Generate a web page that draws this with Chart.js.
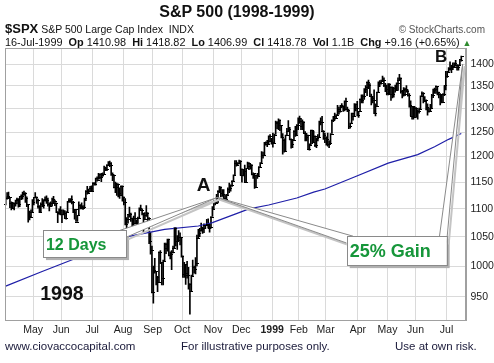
<!DOCTYPE html>
<html>
<head>
<meta charset="utf-8">
<script src="https://cdn.jsdelivr.net/npm/chart.js@4.4.0/dist/chart.umd.min.js"></script>
<style>
body { margin: 0; background: #fff; font-family: "Liberation Sans", Arial, sans-serif; }
#wrap { position: relative; width: 494px; height: 363px; }
#wrap canvas { position: absolute; left: 0; top: 0; }
.t { position: absolute; white-space: nowrap; color: #111; }
</style>
</head>
<body>
<div id="wrap">
  <canvas id="spx" width="494" height="363"></canvas>
  <div class="t" style="left:0;width:474px;top:3px;text-align:center;font-weight:bold;font-size:16px;line-height:18px;">S&amp;P 500 (1998-1999)</div>
  <div class="t" style="left:5px;top:21px;font-size:10.5px;line-height:15px;"><b style="font-size:13px">$SPX</b> S&amp;P 500 Large Cap Index&nbsp; INDX</div>
  <div class="t" style="right:9px;top:24px;font-size:10px;line-height:12px;color:#555;">&copy; StockCharts.com</div>
  <div class="t" style="left:5px;top:36px;font-size:10.9px;line-height:12px;">16-Jul-1999&nbsp; <b>Op</b> 1410.98&nbsp; <b>Hi</b> 1418.82&nbsp; <b>Lo</b> 1406.99&nbsp; <b>Cl</b> 1418.78&nbsp; <b>Vol</b> 1.1B&nbsp; <b>Chg</b> +9.16 (+0.65%) <span style="color:#2e8b2e;font-size:9px">&#9650;</span></div>
  <div class="t" style="left:5px;top:340px;font-size:11.5px;line-height:13px;color:#1a1a3a;">www.ciovaccocapital.com</div>
  <div class="t" style="left:181px;top:340px;font-size:11.5px;line-height:13px;color:#1a1a3a;">For illustrative purposes only.</div>
  <div class="t" style="left:395px;top:340px;font-size:11.5px;line-height:13px;color:#1a1a3a;">Use at own risk.</div>
</div>
<script>
// daily bars, 2-Apr-1998 .. 16-Jul-1999 (index = trading day)
var opens = [
  1109,1120,1123,1121,1111,1102,1111,1110,1116,1119,1108,1123,1124,1127,1130,1120,1108,1087,1085,1095,
  1112,1121,1122,1116,1105,1095,1108,1107,1116,1119,1117,1109,1106,1110,1119,1115,1110,1094,1092,1098,
  1091,1091,1093,1083,1095,1114,1116,1118,1112,1095,1099,1077,1088,1107,1106,1101,1103,1120,1133,1129,1133,1139,
  1134,1149,1146,1157,1155,1166,1159,1164,1165,1178,1175,1184,1187,1184,1165,1164,1140,1141,1147,1130,1125,1143,
  1121,1112,1072,1081,1090,1090,1083,1069,1084,1075,1063,1084,1101,1098,1092,1081,1088,1093,1084,1043,1027,
  957,994,991,982,974,1024,1006,980,1009,1030,1038,1046,1019,1020,1024,1030,1066,1043,1045,1049,1049,
  1017,986,1003,989,985,971,959,984,998,995,1005,1047,1056,1062,1064,1065,1071,1070,1073,1065,1068,1086,
  1099,1112,1111,1119,1134,1141,1130,1128,1120,1118,1126,1136,1139,1145,1153,1164,1188,1183,1187,1192,
  1164,1175,1171,1150,1177,1188,1181,1184,1165,1167,1141,1163,1162,1180,1188,1203,1204,1229,1226,1226,1242,1232,
  1229,1228,1245,1272,1270,1275,1264,1240,1234,1212,1243,1252,1257,1235,1225,1234,1252,1243,1265,
  1280,1273,1262,1272,1249,1239,1244,1216,1224,1254,1230,1242,1224,1237,1239,1272,1271,1253,1245,
  1238,1236,1226,1228,1247,1276,1283,1280,1287,1298,1295,1307,1306,1298,1317,1299,1297,1262,1269,1290,1283,1310,1301,
  1286,1294,1321,1318,1327,1344,1348,1359,1351,1328,1323,1319,1290,1306,1336,1359,1357,1360,1363,1351,1343,
  1335,1355,1332,1347,1332,1345,1340,1356,1364,1368,1338,1340,1333,1344,1339,1330,1307,1284,1305,1281,
  1302,1294,1295,1300,1328,1335,1317,1319,1303,1294,1294,1301,1330,1340,1343,1349,1336,1333,1315,1315,1331,1351,
  1373,1381,1391,1388,1396,1394,1403,1399,1394,1398,1411
];
var highs = [
  1122,1130,1131,1121,1113,1112,1111,1116,1120,1119,1123,1126,1131,1133,1130,1122,1108,1096,1098,1117,
  1121,1130,1122,1118,1106,1111,1119,1117,1122,1124,1120,1111,1113,1120,1123,1116,1111,1095,1100,1104,
  1098,1098,1097,1095,1114,1119,1119,1124,1114,1099,1099,1088,1113,1108,1111,1106,1120,1134,1142,1137,1142,1143,
  1149,1149,1158,1160,1167,1166,1167,1168,1181,1179,1184,1190,1191,1188,1168,1164,1150,1148,1147,1139,1143,1143,
  1122,1119,1084,1090,1103,1092,1083,1087,1093,1080,1085,1102,1107,1100,1092,1093,1106,1093,1084,1058,1034,
  1000,1013,991,983,1024,1026,1006,1010,1039,1039,1046,1046,1024,1026,1034,1066,1066,1052,1061,1057,1049,
  1017,1006,1003,1008,998,971,985,1010,1000,1014,1053,1063,1065,1074,1067,1073,1071,1081,1082,1072,1086,1104,
  1115,1115,1127,1134,1142,1141,1136,1136,1126,1127,1139,1148,1145,1153,1164,1192,1192,1188,1193,1192,
  1176,1175,1183,1177,1189,1188,1185,1184,1168,1167,1163,1167,1180,1188,1210,1209,1229,1230,1233,1242,1245,1237,
  1248,1246,1273,1272,1278,1276,1264,1247,1236,1244,1258,1274,1260,1236,1235,1253,1262,1266,1280,
  1284,1279,1276,1272,1251,1247,1244,1226,1254,1254,1252,1242,1238,1245,1273,1280,1283,1253,1248,
  1240,1248,1232,1247,1276,1283,1290,1287,1307,1303,1307,1311,1306,1317,1323,1303,1297,1269,1290,1290,1311,1310,1316,
  1294,1321,1330,1330,1344,1351,1359,1363,1355,1332,1327,1341,1310,1336,1359,1362,1363,1372,1368,1356,1352,
  1355,1355,1348,1348,1346,1352,1357,1368,1376,1368,1340,1346,1345,1351,1341,1333,1317,1305,1305,1304,
  1302,1298,1301,1328,1337,1335,1326,1319,1310,1301,1309,1331,1343,1345,1350,1349,1336,1333,1329,1333,1351,1383,
  1383,1392,1405,1397,1403,1403,1409,1399,1398,1410,1419
];
var lows = [
  1107,1118,1119,1102,1098,1101,1098,1105,1109,1103,1104,1117,1118,1125,1112,1104,1076,1080,1085,1095,
  1107,1120,1110,1101,1093,1095,1104,1101,1114,1110,1105,1096,1105,1105,1111,1106,1093,1075,1090,1089,
  1075,1089,1082,1081,1095,1112,1112,1109,1093,1081,1077,1077,1088,1100,1100,1099,1103,1115,1127,1129,1133,1132,
  1134,1144,1144,1152,1155,1156,1151,1161,1165,1172,1172,1182,1180,1163,1153,1139,1130,1125,1122,1119,1125,1114,
  1107,1071,1057,1074,1085,1077,1055,1069,1073,1058,1060,1084,1097,1089,1059,1081,1086,1075,1038,1020,956,
  940,988,969,958,974,1004,969,969,1009,1021,1025,1017,1012,994,1022,1030,1034,1028,1043,1036,1015,
  981,981,970,980,962,923,959,984,988,987,1000,1047,1050,1060,1056,1057,1064,1070,1065,1058,1065,1086,
  1099,1107,1111,1111,1130,1122,1123,1118,1115,1117,1125,1130,1133,1142,1153,1164,1181,1182,1187,1163,
  1150,1162,1150,1150,1176,1174,1175,1164,1157,1138,1141,1157,1162,1178,1188,1197,1204,1223,1220,1226,1231,1225,
  1219,1228,1245,1257,1255,1253,1238,1205,1209,1212,1243,1252,1234,1217,1218,1234,1241,1243,1255,
  1268,1255,1255,1248,1232,1232,1215,1213,1224,1226,1230,1220,1218,1232,1239,1265,1253,1235,1228,
  1223,1221,1218,1228,1247,1272,1275,1279,1287,1288,1292,1302,1294,1295,1297,1293,1257,1258,1269,1275,1283,1295,1284,
  1281,1294,1312,1312,1320,1335,1328,1344,1328,1308,1312,1289,1284,1306,1336,1348,1354,1360,1348,1337,1330,
  1330,1332,1318,1323,1325,1336,1340,1340,1364,1334,1323,1327,1328,1336,1327,1303,1284,1277,1277,1281,
  1281,1277,1290,1300,1326,1312,1316,1297,1286,1292,1294,1301,1324,1333,1333,1330,1323,1308,1312,1315,1328,1341,
  1369,1381,1386,1380,1387,1394,1395,1386,1386,1398,1407
];
var closes = [
  1120,1123,1121,1111,1102,1111,1110,1116,1119,1108,1123,1124,1127,1130,1120,1108,1087,1085,1095,1112,
  1121,1122,1116,1105,1095,1108,1107,1116,1119,1117,1109,1106,1110,1119,1115,1110,1094,1092,1098,1091,
  1091,1093,1083,1095,1114,1116,1118,1112,1095,1099,1077,1088,1107,1106,1101,1103,1120,1133,1129,1133,1139,1134,
  1149,1146,1157,1155,1166,1159,1164,1165,1178,1175,1184,1187,1184,1165,1164,1140,1141,1147,1130,1125,1143,1121,
  1112,1072,1081,1090,1090,1083,1069,1084,1075,1063,1084,1101,1098,1092,1081,1088,1093,1084,1043,1027,957,
  994,991,982,974,1024,1006,980,1009,1030,1038,1046,1019,1020,1024,1030,1066,1043,1045,1049,1049,1017,
  986,1003,989,985,971,959,984,998,995,1005,1047,1056,1062,1064,1065,1071,1070,1073,1065,1068,1086,1099,
  1112,1111,1119,1134,1141,1130,1128,1120,1118,1126,1136,1139,1145,1153,1164,1188,1183,1187,1192,1164,
  1175,1171,1150,1177,1188,1181,1184,1165,1167,1141,1163,1162,1180,1188,1203,1204,1229,1226,1226,1242,1232,1229,
  1228,1245,1272,1270,1275,1264,1240,1234,1212,1243,1252,1257,1235,1225,1234,1252,1243,1265,1280,
  1273,1262,1272,1249,1239,1244,1216,1224,1254,1230,1242,1224,1237,1239,1272,1271,1253,1245,1238,
  1236,1226,1228,1247,1276,1283,1280,1287,1298,1295,1307,1306,1298,1317,1299,1297,1262,1269,1290,1283,1310,1301,1286,
  1294,1321,1318,1327,1344,1348,1359,1351,1328,1323,1319,1290,1306,1336,1359,1357,1360,1363,1351,1343,1335,
  1355,1332,1347,1332,1345,1340,1356,1364,1368,1338,1340,1333,1344,1339,1330,1307,1284,1305,1281,1302,
  1294,1295,1300,1328,1335,1317,1319,1303,1294,1294,1301,1330,1340,1343,1349,1336,1333,1315,1315,1331,1351,1373,
  1381,1391,1388,1396,1394,1403,1399,1394,1398,1410,1419
];

// 200-day moving average at a few days
var maDays = [0, 25, 50, 84, 113, 137, 147, 166, 173, 187, 207, 219, 227, 248, 272, 293, 305, 315, 324];
var maVals = [967, 990, 1013, 1049, 1063, 1069, 1075, 1093, 1100, 1107, 1120, 1131, 1137, 1160, 1187, 1204, 1220, 1235, 1247];

var monthStarts = [20, 40, 62, 84, 105, 126, 148, 168, 190, 209, 228, 251, 272, 292, 314];
var monthLabels = ['May', 'Jun', 'Jul', 'Aug', 'Sep', 'Oct', 'Nov', 'Dec', '1999', 'Feb', 'Mar', 'Apr', 'May', 'Jun', 'Jul'];
var yTicks = [950, 1000, 1050, 1100, 1150, 1200, 1250, 1300, 1350, 1400];

// callouts, in (day, price) units
var pointA = [150.5, 1121];
var pointB = [325, 1400];
var callouts = [
    { text: '12 Days', size: 16, box: [26.5, 1061, 85.6, 1015],
      wedges: [{ base: [[81, 1061], [85.6, 1049]], tip: pointA }] },
    { text: '25% Gain', size: 18, box: [242.5, 1051, 313.6, 1001.5],
      wedges: [{ base: [[247, 1051], [242.5, 1039]], tip: pointA },
               { base: [[308.5, 1051], [313.6, 1040]], tip: pointB }] }
];
var labels = [
    { text: 'A', size: 19, at: [140.7, 1144] },
    { text: 'B', size: 17, at: [309.6, 1416] },
    { text: '1998', size: 19.5, at: [40, 954] }
];

var FONT = '"Liberation Sans", Arial, sans-serif';

var annot = {
    id: 'annot',
    afterDatasetsDraw: function(chart) {
        var ctx = chart.ctx, x = chart.scales.x, y = chart.scales.y;
        var P = function(p) { return [x.getPixelForValue(p[0]), y.getPixelForValue(p[1])]; };

        // open / close ticks
        ctx.save();
        ctx.fillStyle = '#000';
        for (var i = 0; i < closes.length; i++) {
            var cx = Math.round(x.getPixelForValue(i));
            ctx.fillRect(cx - 2, Math.round(y.getPixelForValue(opens[i])), 2, 1);
            ctx.fillRect(cx + 1, Math.round(y.getPixelForValue(closes[i])), 2, 1);
        }
        ctx.restore();

        ctx.save();
        callouts.forEach(function(c) {
            var tl = P([c.box[0], c.box[1]]), br = P([c.box[2], c.box[3]]);
            var w = br[0] - tl[0], h = br[1] - tl[1];
            // shadows
            ctx.fillStyle = '#b0b0b0';
            ctx.fillRect(tl[0] + 3, tl[1] + 3, w, h);
            c.wedges.forEach(function(wd) {
                var a = P(wd.base[0]), b = P(wd.base[1]), t = P(wd.tip);
                ctx.strokeStyle = '#c4c4c4';
                ctx.lineWidth = 2;
                ctx.beginPath();
                ctx.moveTo(a[0] + 2, a[1] + 2); ctx.lineTo(t[0] + 2, t[1] + 2); ctx.lineTo(b[0] + 2, b[1] + 2);
                ctx.stroke();
            });
            c.wedges.forEach(function(wd) {
                var a = P(wd.base[0]), b = P(wd.base[1]), t = P(wd.tip);
                ctx.fillStyle = '#fff';
                ctx.beginPath();
                ctx.moveTo(a[0], a[1]); ctx.lineTo(t[0], t[1]); ctx.lineTo(b[0], b[1]); ctx.closePath();
                ctx.fill();
                ctx.strokeStyle = '#8a8a8a';
                ctx.lineWidth = 1;
                ctx.beginPath();
                ctx.moveTo(a[0], a[1]); ctx.lineTo(t[0], t[1]); ctx.lineTo(b[0], b[1]);
                ctx.stroke();
            });
            ctx.fillStyle = '#fff';
            ctx.fillRect(tl[0], tl[1], w, h);
            ctx.strokeStyle = '#8a8a8a';
            ctx.lineWidth = 1;
            ctx.strokeRect(Math.round(tl[0]) + 0.5, Math.round(tl[1]) + 0.5, Math.round(w), Math.round(h));
            ctx.fillStyle = '#16963a';
            ctx.font = 'bold ' + c.size + 'px ' + FONT;
            ctx.textAlign = 'left';
            ctx.textBaseline = 'alphabetic';
            ctx.fillText(c.text, tl[0] + 3, tl[1] + h / 2 + c.size * 0.37);
        });

        labels.forEach(function(l) {
            var p = P(l.at);
            ctx.fillStyle = '#111';
            ctx.font = 'bold ' + l.size + 'px ' + FONT;
            ctx.textAlign = 'center';
            ctx.textBaseline = 'middle';
            ctx.fillText(l.text, p[0], p[1]);
        });
        ctx.restore();
    },
    afterDraw: function(chart) {
        var a = chart.chartArea, ctx = chart.ctx;
        ctx.save();
        ctx.strokeStyle = '#a0a0a0';
        ctx.lineWidth = 1;
        ctx.strokeRect(Math.round(a.left) + 0.5, Math.round(a.top) + 0.5, Math.round(a.right - a.left), Math.round(a.bottom - a.top));
        ctx.restore();
    }
};

new Chart(document.getElementById('spx'), {
    type: 'bar',
    data: {
        datasets: [{
            type: 'line',
            data: maDays.map(function(d, i) { return { x: d, y: maVals[i] }; }),
            borderColor: '#1f1fa8',
            borderWidth: 1.2,
            pointRadius: 0,
            tension: 0,
            order: 0
        }, {
            data: highs.map(function(h, i) { return { x: i, y: [lows[i], h] }; }),
            backgroundColor: '#000',
            borderWidth: 0,
            barThickness: 1,
            grouped: false,
            order: 1
        }]
    },
    plugins: [annot],
    options: {
        responsive: false,
        devicePixelRatio: 1,
        animation: false,
        layout: { padding: { left: 5, top: 48, right: 0, bottom: 23 } },
        plugins: { legend: { display: false }, tooltip: { enabled: false } },
        scales: {
            x: {
                type: 'linear',
                min: -0.5,
                max: 327,
                offset: false,
                grid: { color: '#dadada', drawTicks: false, offset: false },
                border: { color: '#a0a0a0' },
                afterBuildTicks: function(s) { s.ticks = monthStarts.map(function(m) { return { value: m - 0.5 }; }); },
                afterFit: function(s) { s.height = 20; },
                ticks: {
                    autoSkip: false,
                    maxRotation: 0,
                    padding: 4,
                    color: '#222',
                    font: function(c) { return { family: FONT, size: 10.5, weight: c.index === 8 ? 'bold' : 'normal' }; },
                    callback: function(v, i) { return monthLabels[i]; }
                }
            },
            y: {
                type: 'logarithmic',
                position: 'right',
                min: 914,
                max: 1438,
                grid: { color: '#dadada', drawTicks: false },
                border: { color: '#a0a0a0' },
                afterBuildTicks: function(s) { s.ticks = yTicks.map(function(v) { return { value: v }; }); },
                afterFit: function(s) { s.width = 28.5; },
                ticks: {
                    padding: 5,
                    color: '#222',
                    font: { family: FONT, size: 10.5 },
                    callback: function(v) { return String(v); }
                }
            }
        }
    }
});
</script>
</body>
</html>
